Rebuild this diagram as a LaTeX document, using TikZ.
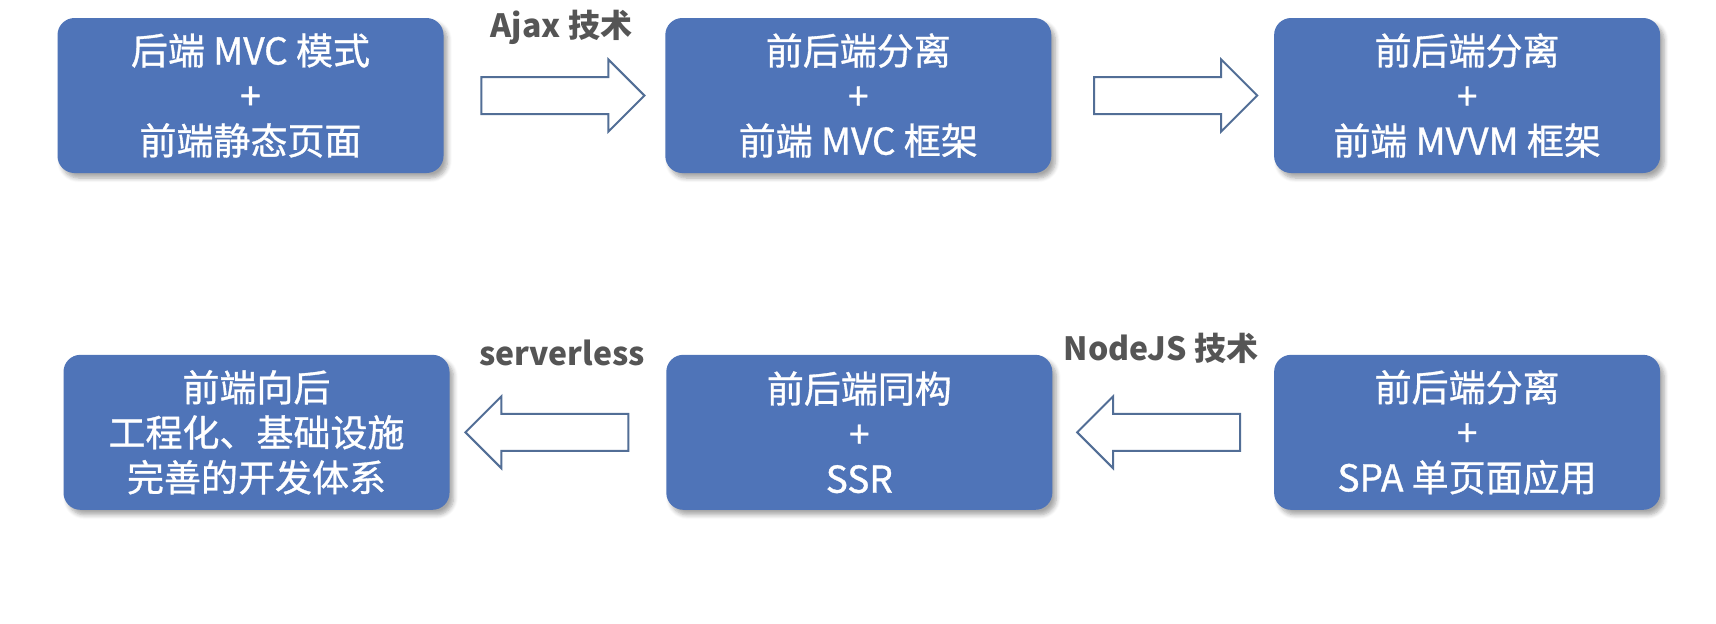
\documentclass[tikz,border=0pt]{standalone}
\usepackage{fontspec}
\setmainfont{Noto Sans CJK SC}
\newfontfamily\stagefont{Noto Sans CJK SC}[FakeBold=0.9]
\usetikzlibrary{positioning,calc,shapes.arrows,shadows.blur}

\definecolor{boxblue}{RGB}{79,116,184}
\definecolor{arrowblue}{RGB}{82,110,150}
\definecolor{labelgray}{RGB}{85,85,85}

\begin{document}
\begin{tikzpicture}[x=0.5pt,y=-0.5pt,
  stage/.style={rectangle, rounded corners=8.5pt, fill=boxblue, text=white, align=center,
    minimum width=193pt, minimum height=77.5pt, inner sep=0pt,
    font=\stagefont\fontsize{18.5}{22.5}\selectfont,
    blur shadow={shadow xshift=2pt, shadow yshift=-2.5pt, shadow blur steps=6, shadow opacity=35}},
  fatarrow/.style={single arrow, draw=arrowblue, fill=white, line width=1pt, anchor=tail,
    minimum height=81.5pt, minimum width=35pt, inner sep=8.75pt, single arrow head extend=8.75pt},
  tech/.style={text=labelgray, font=\fontsize{16}{19}\selectfont\bfseries}]

 \useasboundingbox (0,0) rectangle (1716,623);

 %%%  nodes

 % first row, left to right
 \node [stage] (backmvc) at (250.5,95.5) {后端 MVC 模式\\+\\前端静态页面};
 \node [stage, right=110.5pt of backmvc] (frontmvc) {前后端分离\\+\\前端 MVC 框架};
 \node [stage, right=111pt of frontmvc] (frontmvvm) {前后端分离\\+\\前端 MVVM 框架};

 % second row, right to left
 \node [stage, below=90.5pt of frontmvvm] (spa) {前后端分离\\+\\SPA 单页面应用};
 \node [stage, left=110.5pt of spa] (ssr) {前后端同构\\+\\SSR};
 \node [stage, left=108pt of ssr] (infra) {前端向后\\工程化、基础设施\\完善的开发体系};

 % block arrows, placed by their tails
 \node [fatarrow] (ajax) at ($(backmvc.east)+(36.5,0)$) {};
 \node [fatarrow] (mvvm) at ($(frontmvc.east)+(41.5,0)$) {};
 \node [fatarrow, shape border rotate=180] (nodejs) at ($(spa.west)+(-32.5,0)$) {};
 \node [fatarrow, shape border rotate=180] (sless) at ($(ssr.west)+(-36.5,0)$) {};

 % arrow labels
 \node [tech] (ajaxlabel) at (561.5,27) {Ajax 技术};
 \node [tech] (slesslabel) at (562,353) {serverless};
 \node [tech] (nodejslabel) at (1161,348) {NodeJS 技术};

\end{tikzpicture}
\end{document}
